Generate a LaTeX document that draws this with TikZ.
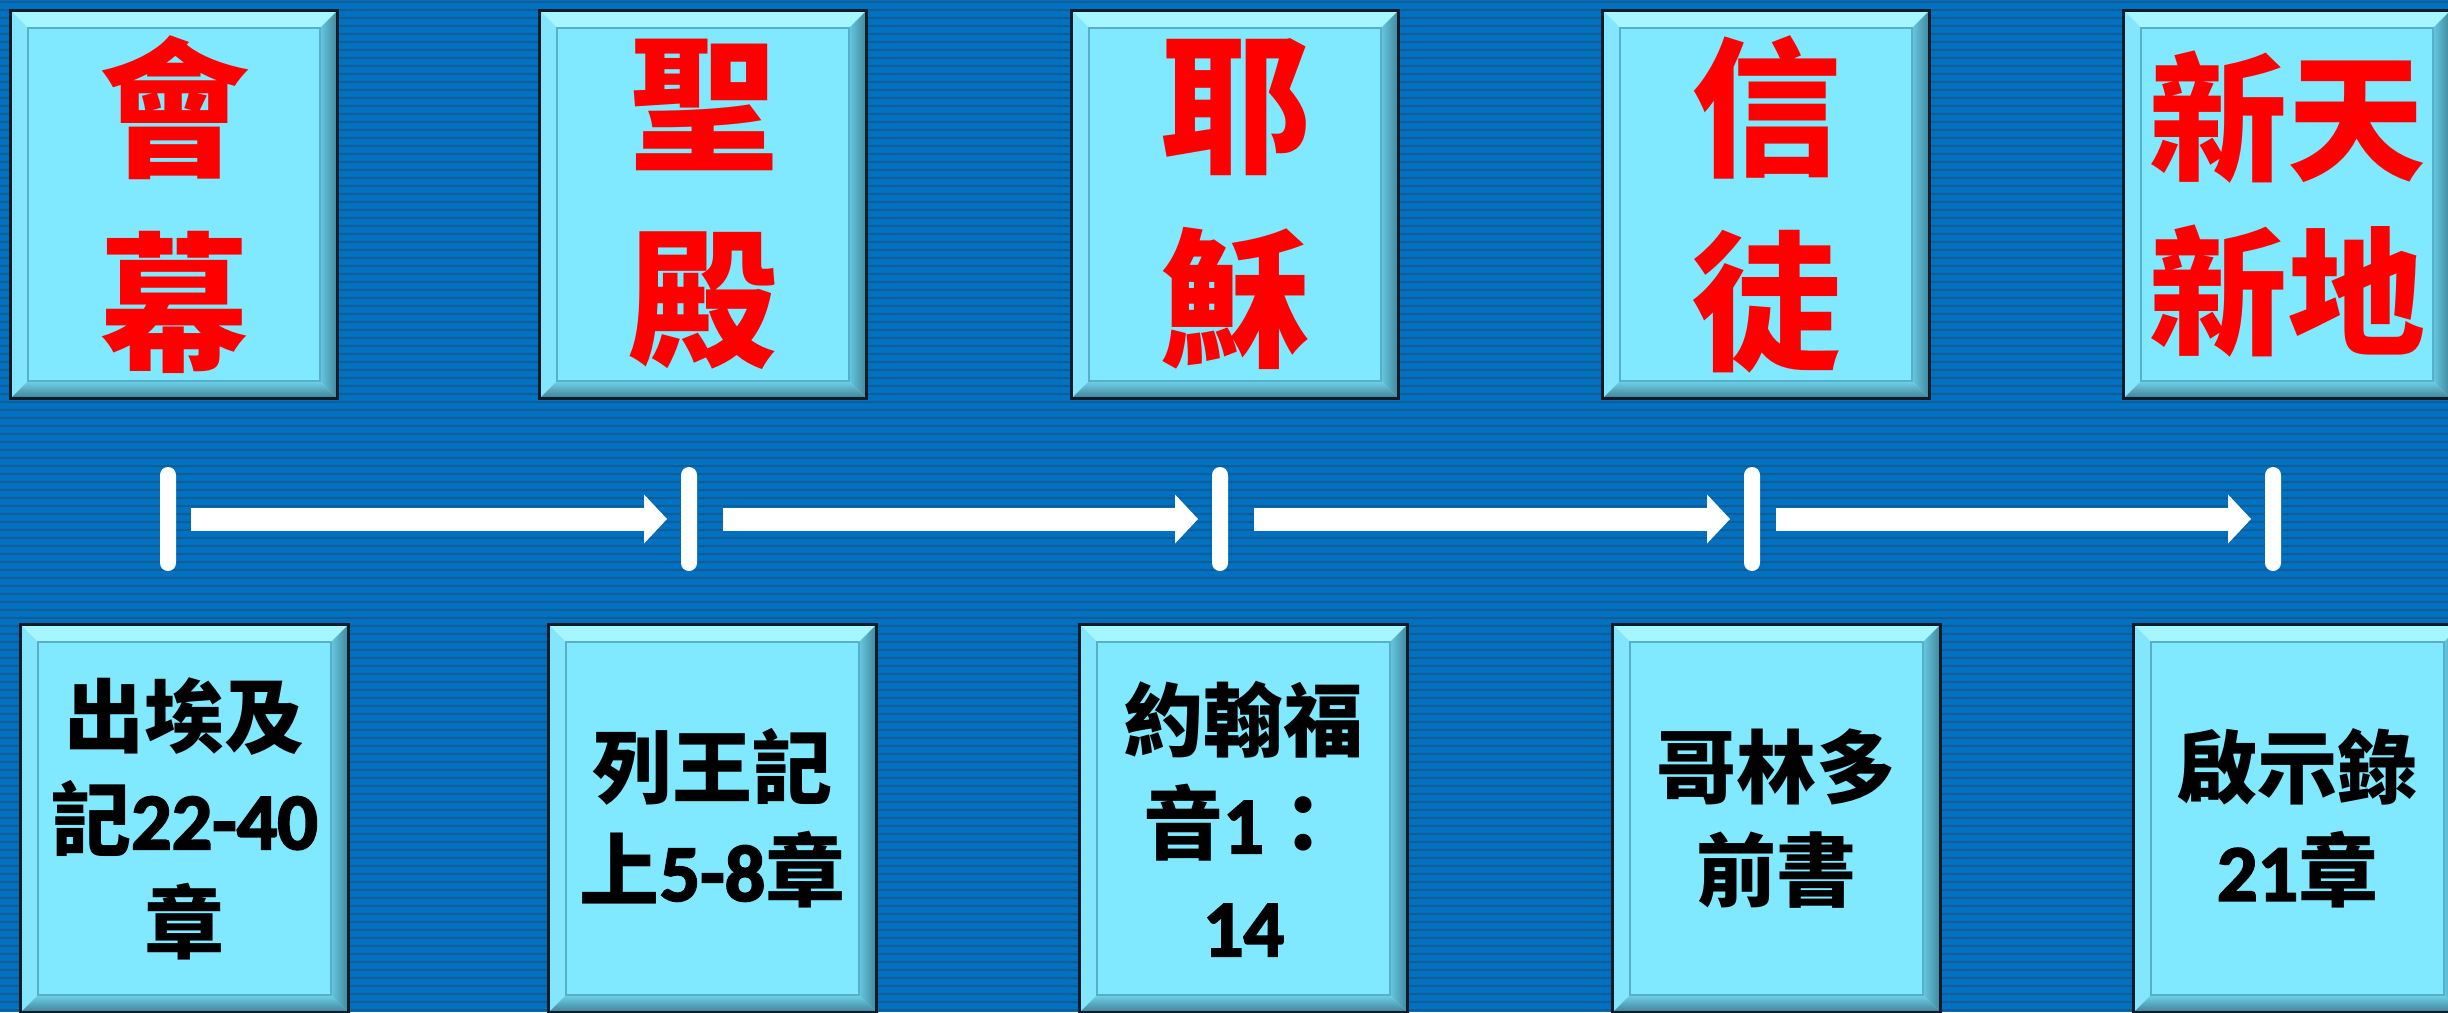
\documentclass[tikz,border=0pt]{standalone}
\usepackage{fontspec}
\usetikzlibrary{arrows.meta,calc}
\newfontfamily\cjk{Noto Sans CJK TC}
\newfontfamily\dg{Carlito}[FakeBold=2.5]
\definecolor{bgc}{RGB}{0,112,192}
\definecolor{stripec}{RGB}{18,92,150}
\definecolor{facec}{RGB}{128,232,255}
\definecolor{toplt}{RGB}{165,246,255}
\definecolor{leftlt}{RGB}{132,230,252}
\definecolor{rightin}{RGB}{100,200,225}
\definecolor{rightout}{RGB}{62,128,148}
\definecolor{botin}{RGB}{112,210,235}
\definecolor{botout}{RGB}{58,120,140}
\definecolor{innerc}{RGB}{88,176,200}
\definecolor{borderc}{RGB}{18,28,40}
\definecolor{redc}{RGB}{255,0,0}
\def\bw{19}
\tikzset{
  face/.style={rectangle, fill=facec, inner sep=0pt, outer sep=0pt, align=center},
  toptxt/.style={text=redc, font=\cjk\bfseries\fontsize{150}{194}\selectfont},
  toptxtb/.style={text=redc, font=\cjk\bfseries\fontsize{138}{174}\selectfont},
  bottxt/.style={text=black, font=\cjk\bfseries\fontsize{80}{103}\selectfont},
  bevtop/.style={fill=toplt},
  bevleft/.style={fill=leftlt},
  bevright/.style={left color=rightin, right color=rightout},
  bevbot/.style={top color=botin, bottom color=botout},
  innerline/.style={draw=innerc, line width=1.5pt},
  border/.style={draw=borderc, line width=3pt},
  tick/.style={rectangle, rounded corners=8pt, fill=white, minimum width=16pt, minimum height=104pt, inner sep=0pt, outer sep=0pt},
  arr/.style={draw=white, line width=23pt, line cap=butt, -{Triangle[length=23pt, width=49pt, line width=0pt]}}
}
\newcommand\bvbox[7]{%
  \node[face, minimum width=#4pt, minimum height=#5pt, anchor=north west, #6] (#1) at (#2,#3) {#7};
  \fill[bevtop] (#1.north west) -- (#1.north east) -- ([shift={(-\bw,\bw)}]#1.north east) -- ([shift={(\bw,\bw)}]#1.north west) -- cycle;
  \fill[bevleft] (#1.north west) -- ([shift={(\bw,\bw)}]#1.north west) -- ([shift={(\bw,-\bw)}]#1.south west) -- (#1.south west) -- cycle;
  \shade[bevright] (#1.north east) -- (#1.south east) -- ([shift={(-\bw,-\bw)}]#1.south east) -- ([shift={(-\bw,\bw)}]#1.north east) -- cycle;
  \shade[bevbot] (#1.south west) -- (#1.south east) -- ([shift={(-\bw,-\bw)}]#1.south east) -- ([shift={(\bw,-\bw)}]#1.south west) -- cycle;
  \draw[innerline] ([shift={(\bw,\bw)}]#1.north west) rectangle ([shift={(-\bw,-\bw)}]#1.south east);
  \draw[border] ([shift={(1.5,1.5)}]#1.north west) rectangle ([shift={(-1.5,-1.5)}]#1.south east);
}
\begin{document}
\begin{tikzpicture}[x=1pt, y=-1pt]
\useasboundingbox (0,0) rectangle (2448,1012);
\clip (0,0) rectangle (2448,1012);
\fill[bgc] (0,0) rectangle (2448,1012);
\foreach \i in {0,...,126} { \fill[stripec] (0,8*\i+1) rectangle (2448,8*\i+3); }
% top boxes
\bvbox{T1}{9}{9}{330}{391}{toptxt}{會\\幕}
\bvbox{T2}{538}{9}{330}{391}{toptxt}{聖\\殿}
\bvbox{T3}{1070}{9}{330}{391}{toptxt}{耶\\穌}
\bvbox{T4}{1601}{9}{330}{391}{toptxt}{信\\徒}
\bvbox{T5}{2122}{9}{330}{391}{toptxtb}{新天\\新地}
% bottom boxes
\bvbox{B1}{19}{623}{331}{391}{bottxt}{出埃及\\記{\dg 22-40}\\章}
\bvbox{B2}{547}{623}{331}{391}{bottxt}{列王記\\上{\dg 5-8}章}
\bvbox{B3}{1078}{623}{331}{391}{bottxt}{約翰福\\音{\dg 1}：\\{\dg 14}}
\bvbox{B4}{1611}{623}{331}{391}{bottxt}{哥林多\\前書}
\bvbox{B5}{2132}{623}{331}{391}{bottxt}{啟示錄\\{\dg 21}章}
% timeline
\node[tick] (t1) at (168,519) {};
\node[tick] (t2) at (689,519) {};
\node[tick] (t3) at (1220,519) {};
\node[tick] (t4) at (1752,519) {};
\node[tick] (t5) at (2273,519) {};
\draw[arr, shorten <=15pt, shorten >=14pt] (t1) -- (t2);
\draw[arr, shorten <=26pt, shorten >=14pt] (t2) -- (t3);
\draw[arr, shorten <=26pt, shorten >=14pt] (t3) -- (t4);
\draw[arr, shorten <=16pt, shorten >=14pt] (t4) -- (t5);
\end{tikzpicture}
\end{document}
